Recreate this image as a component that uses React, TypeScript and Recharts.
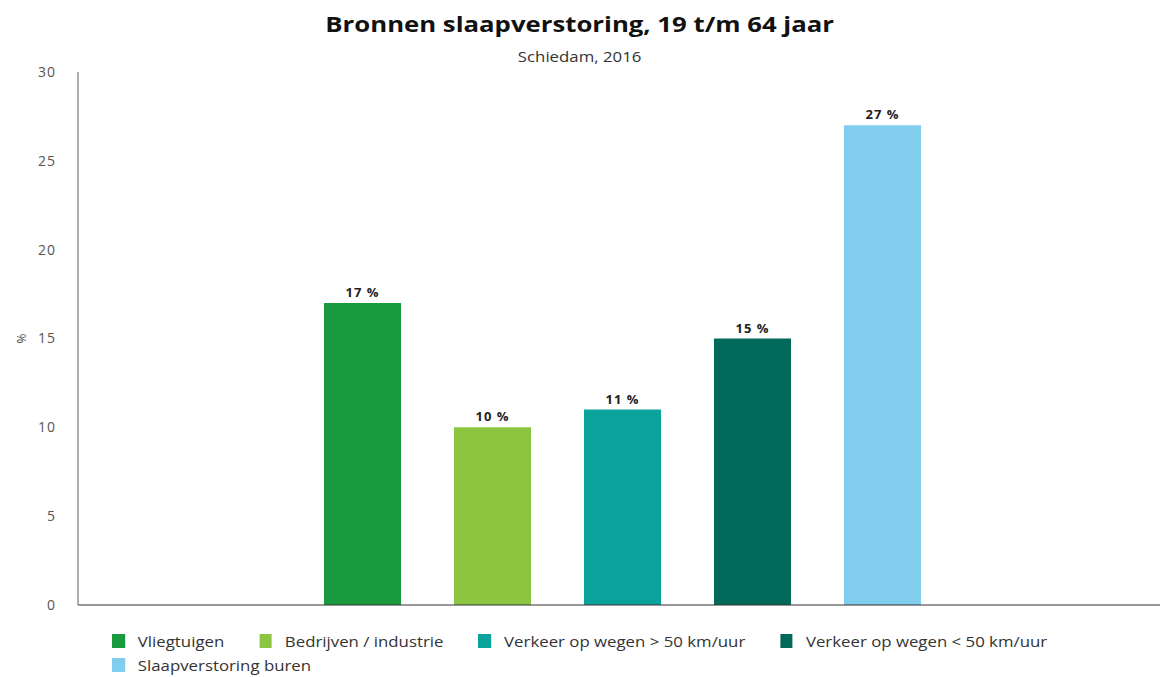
import React from 'react';
import { BarChart, Bar, XAxis, YAxis, LabelList } from 'recharts';

const categories = ['Schiedam, 2016'];
const seriesKeys = ['vliegtuigen', 'bedrijven', 'verkeerHoog', 'verkeerLaag', 'buren'];
const seriesNames = [
  'Vliegtuigen',
  'Bedrijven / industrie',
  'Verkeer op wegen > 50 km/uur',
  'Verkeer op wegen < 50 km/uur',
  'Slaapverstoring buren',
];
const seriesValues = [17, 10, 11, 15, 27];
const seriesColors = ['#1a9a3f', '#8cc640', '#0aa39b', '#00695a', '#80cdee'];
const yTicks = [0, 5, 10, 15, 20, 25, 30];

const data = categories.map((c) => {
  const row: Record<string, any> = { name: c };
  seriesKeys.forEach((k, i) => {
    row[k] = seriesValues[i];
  });
  return row;
});

const FONT = '"Open Sans", "Noto Sans", sans-serif';

const YLabel = (props: any) => {
  const vb = props.viewBox || { x: 0, y: 0, width: 0, height: 0 };
  const x = vb.x + 3;
  const y = vb.y + vb.height / 2;
  return (
    <text x={x} y={y} transform={`rotate(-90 ${x} ${y})`} textAnchor="middle" dominantBaseline="central" fontSize={12} fill="#444" fontFamily={FONT}>
      %
    </text>
  );
};

export default function App() {
  return (
    <div style={{ position: 'absolute', left: 0, top: 0, width: 1160, height: 677, background: '#fff', fontFamily: FONT, overflow: 'hidden' }}>
      <div style={{ position: 'absolute', top: 8, left: 0, width: 1160, textAlign: 'center', fontSize: 22, fontWeight: 700, color: '#111', transform: 'scaleX(1.17)', transformOrigin: '582px 0' }}>
        Bronnen slaapverstoring, 19 t/m 64 jaar
      </div>
      <div style={{ position: 'absolute', top: 47, left: 0, width: 1160, textAlign: 'center', fontSize: 14, color: '#333', transform: 'scaleX(1.2)', transformOrigin: '582px 0' }}>
        Schiedam, 2016
      </div>
      <div style={{ position: 'absolute', top: 0, left: 0 }}>
        <BarChart width={1160} height={620} data={data} margin={{ top: 72, right: -6, left: 18, bottom: 0 }} barGap={53}>
          <XAxis dataKey="name" tick={false} tickLine={false} height={15} axisLine={{ stroke: '#333', strokeWidth: 1.2 }} />
          <YAxis
            domain={[0, 30]}
            ticks={yTicks}
            interval={0}
            width={60}
            tickLine={false}
            tickSize={0}
            tickMargin={22}
            axisLine={{ stroke: '#777', strokeWidth: 1.2 }}
            tick={{ fontSize: 14, fill: '#555', fontFamily: FONT, letterSpacing: 1 }}
            label={<YLabel />}
          />
          {seriesKeys.map((k, i) => (
            <Bar key={k} dataKey={k} name={seriesNames[i]} fill={seriesColors[i]} barSize={77} isAnimationActive={false}>
              <LabelList dataKey={k} position="top" offset={6} formatter={(v: any) => `${v} %`} style={{ fontSize: 13, fontWeight: 700, fill: '#222', fontFamily: FONT, letterSpacing: 1 }} />
            </Bar>
          ))}
        </BarChart>
      </div>
      <div style={{ position: 'absolute', top: 629, left: 112, width: 840, display: 'flex', flexWrap: 'wrap', fontSize: 14, color: '#333', transform: 'scaleX(1.2)', transformOrigin: '0 0' }}>
        {seriesNames.map((n, i) => (
          <div key={n} style={{ display: 'flex', alignItems: 'center', height: 24, marginRight: 29 }}>
            <span style={{ display: 'inline-block', width: 10.5, height: 14, background: seriesColors[i], marginRight: 11 }} />
            <span>{n}</span>
          </div>
        ))}
      </div>
    </div>
  );
}
